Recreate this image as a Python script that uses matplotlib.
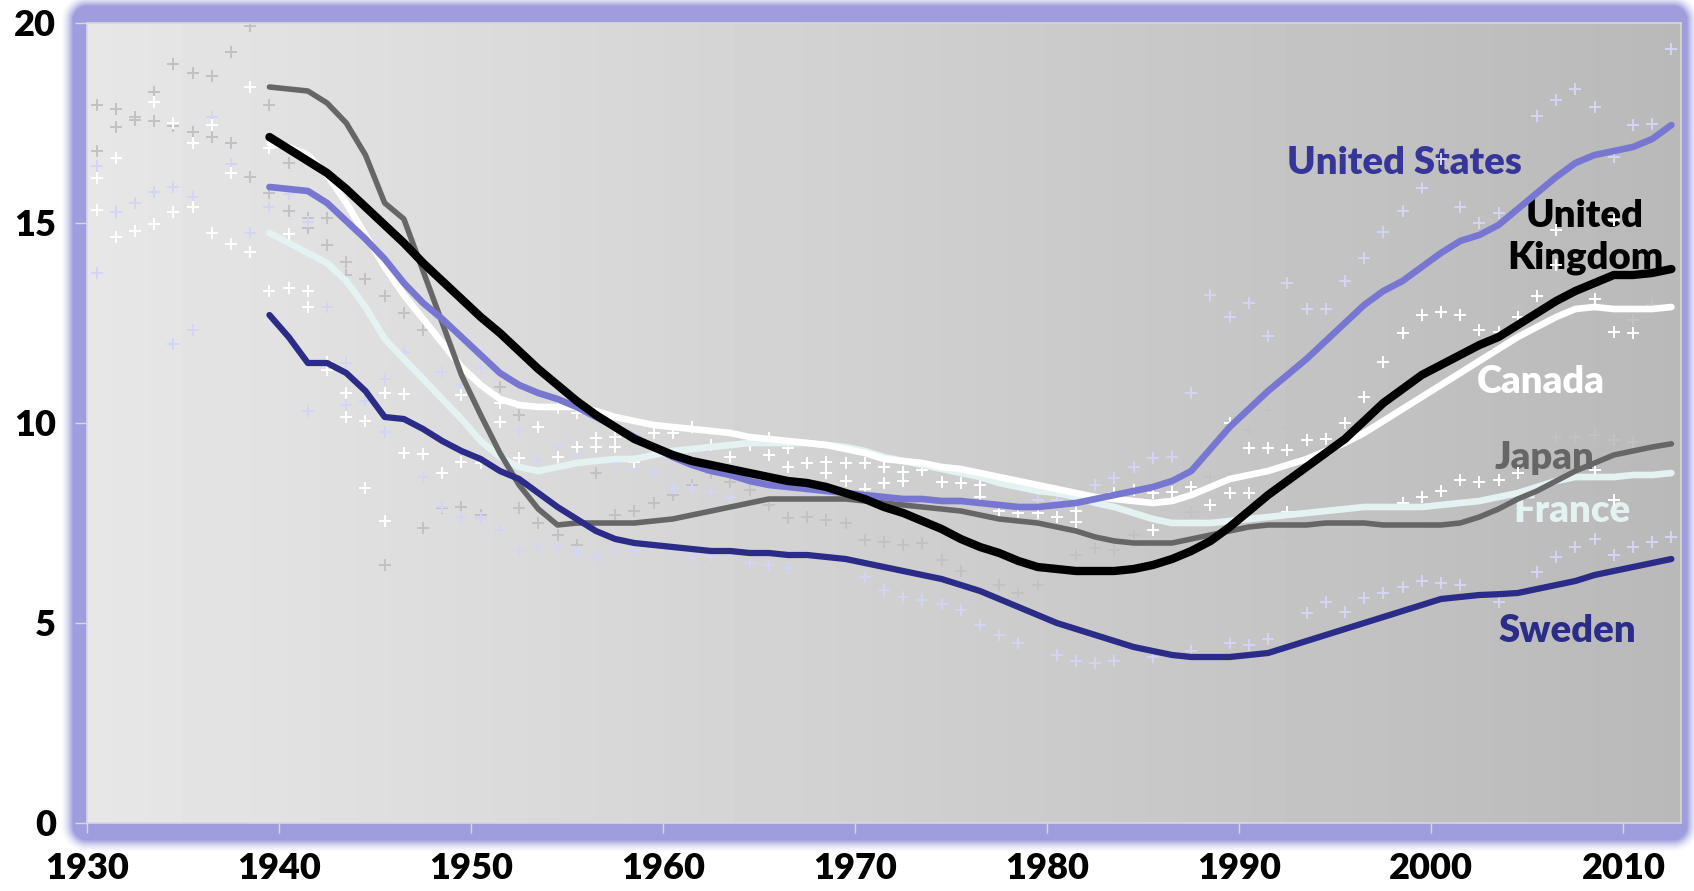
import numpy as np
import matplotlib.pyplot as plt

# smoothed series, one value per year 1939-2012
years = np.arange(1939, 2013)

japan = [18.4, 18.35, 18.3, 18.0, 17.5, 16.7, 15.5, 15.1, 13.8, 12.5,
         11.2, 10.2, 9.25, 8.45, 7.85, 7.45, 7.5, 7.5, 7.5, 7.5,
         7.55, 7.6, 7.7, 7.8, 7.9, 8.0, 8.1, 8.1, 8.1, 8.1,
         8.1, 8.05, 8.0, 7.95, 7.9, 7.85, 7.8, 7.7, 7.6, 7.55,
         7.5, 7.4, 7.3, 7.15, 7.05, 7.0, 7.0, 7.0, 7.1, 7.2,
         7.3, 7.4, 7.45, 7.45, 7.45, 7.5, 7.5, 7.5, 7.45, 7.45,
         7.45, 7.45, 7.5, 7.65, 7.85, 8.1, 8.3, 8.55, 8.8, 9.0,
         9.2, 9.3, 9.4, 9.48]

uk = [17.15, 16.85, 16.55, 16.25, 15.85, 15.4, 14.95, 14.5, 14.0, 13.55,
      13.1, 12.65, 12.25, 11.8, 11.35, 10.95, 10.55, 10.2, 9.9, 9.6,
      9.4, 9.2, 9.05, 8.95, 8.85, 8.75, 8.65, 8.55, 8.5, 8.4,
      8.25, 8.1, 7.9, 7.75, 7.55, 7.35, 7.1, 6.9, 6.75, 6.55,
      6.4, 6.35, 6.3, 6.3, 6.3, 6.35, 6.45, 6.6, 6.8, 7.05,
      7.4, 7.8, 8.2, 8.55, 8.9, 9.25, 9.6, 10.05, 10.5, 10.85,
      11.2, 11.45, 11.7, 11.95, 12.15, 12.45, 12.75, 13.05, 13.3, 13.5,
      13.7, 13.7, 13.75, 13.85]

us = [15.9, 15.85, 15.8, 15.5, 15.05, 14.6, 14.1, 13.5, 13.0, 12.6,
      12.15, 11.7, 11.25, 10.95, 10.75, 10.6, 10.4, 10.15, 9.9, 9.65,
      9.4, 9.15, 8.95, 8.8, 8.7, 8.55, 8.45, 8.4, 8.35, 8.3,
      8.25, 8.2, 8.15, 8.1, 8.1, 8.05, 8.05, 8.0, 7.95, 7.9,
      7.9, 7.95, 8.0, 8.1, 8.2, 8.3, 8.4, 8.55, 8.8, 9.35,
      9.9, 10.35, 10.8, 11.2, 11.6, 12.05, 12.5, 12.95, 13.3, 13.55,
      13.9, 14.25, 14.55, 14.7, 14.95, 15.35, 15.75, 16.15, 16.5, 16.7,
      16.8, 16.9, 17.1, 17.45]

canada = [17.0, 16.9, 16.7, 16.2, 15.5, 14.7, 13.9, 13.2, 12.6, 12.0,
          11.4, 10.95, 10.6, 10.45, 10.4, 10.4, 10.4, 10.3, 10.15, 10.05,
          9.95, 9.9, 9.85, 9.8, 9.75, 9.65, 9.6, 9.55, 9.5, 9.45,
          9.35, 9.25, 9.1, 9.05, 9.0, 8.9, 8.85, 8.75, 8.65, 8.55,
          8.45, 8.35, 8.25, 8.15, 8.1, 8.05, 8.0, 8.05, 8.2, 8.4,
          8.6, 8.7, 8.8, 8.95, 9.1, 9.3, 9.5, 9.75, 10.05, 10.35,
          10.65, 10.95, 11.25, 11.55, 11.85, 12.15, 12.4, 12.65, 12.85, 12.9,
          12.85, 12.85, 12.85, 12.9]

france = [14.75, 14.5, 14.25, 14.0, 13.55, 12.9, 12.1, 11.6, 11.1, 10.6,
          10.1, 9.55, 9.15, 8.9, 8.8, 8.9, 9.0, 9.05, 9.1, 9.1,
          9.2, 9.3, 9.35, 9.4, 9.45, 9.5, 9.5, 9.5, 9.5, 9.45,
          9.4, 9.3, 9.15, 9.05, 8.95, 8.85, 8.75, 8.65, 8.5, 8.4,
          8.3, 8.25, 8.15, 8.0, 7.9, 7.75, 7.6, 7.5, 7.5, 7.5,
          7.55, 7.6, 7.65, 7.7, 7.75, 7.8, 7.85, 7.9, 7.9, 7.9,
          7.9, 7.95, 8.0, 8.05, 8.15, 8.25, 8.4, 8.55, 8.65, 8.65,
          8.65, 8.7, 8.7, 8.75]

sweden = [12.7, 12.15, 11.5, 11.5, 11.25, 10.8, 10.15, 10.1, 9.85, 9.55,
          9.3, 9.1, 8.8, 8.6, 8.25, 7.9, 7.6, 7.3, 7.1, 7.0,
          6.95, 6.9, 6.85, 6.8, 6.8, 6.75, 6.75, 6.7, 6.7, 6.65,
          6.6, 6.5, 6.4, 6.3, 6.2, 6.1, 5.95, 5.8, 5.6, 5.4,
          5.2, 5.0, 4.85, 4.7, 4.55, 4.4, 4.3, 4.2, 4.15, 4.15,
          4.15, 4.2, 4.25, 4.4, 4.55, 4.7, 4.85, 5.0, 5.15, 5.3,
          5.45, 5.6, 5.65, 5.7, 5.72, 5.75, 5.85, 5.95, 6.05, 6.2,
          6.3, 6.4, 6.5, 6.6]

# yearly raw observations, grouped by marker tint
grey_years = [1930, 1930, 1931, 1931, 1932, 1932, 1933, 1933, 1934, 1934,
              1935, 1935, 1936, 1936, 1937, 1937, 1938, 1938, 1939, 1939,
              1940, 1940, 1941, 1941, 1942, 1942, 1943, 1943, 1944, 1945,
              1945, 1946, 1947, 1947, 1948, 1949, 1950, 1951, 1952, 1952,
              1953, 1954, 1955, 1956, 1957, 1958, 1959, 1960, 1961, 1962,
              1963, 1964, 1965, 1966, 1967, 1968, 1969, 1970, 1971, 1972,
              1973, 1974, 1975, 1977, 1978, 1979, 1981, 1982, 1983, 1984,
              1987, 1988, 1989, 1990, 1991, 1992, 1992, 1993, 1993, 1994,
              1994, 1995, 1995, 1996, 1996, 1997, 1997, 1998, 1998, 1999,
              1999, 2000, 2004, 2006, 2007, 2008, 2009, 2010, 2010, 2011]
grey_vals = [17.95, 16.8, 17.85, 17.39, 17.66, 17.58, 18.28, 17.56, 18.97, 17.42,
             18.74, 17.28, 18.68, 17.14, 19.27, 16.99, 19.92, 16.16, 17.95, 15.74,
             16.5, 15.3, 15.12, 14.87, 15.12, 14.45, 14.03, 13.7, 13.6, 13.18,
             6.45, 12.76, 12.33, 7.37, 7.87, 7.89, 7.7, 10.9, 10.2, 7.87,
             7.49, 7.2, 6.95, 8.74, 7.7, 7.79, 8.0, 8.2, 8.45, 8.74,
             8.53, 8.33, 7.95, 7.62, 7.66, 7.58, 7.49, 7.08, 7.03, 6.95,
             6.99, 6.57, 6.3, 5.95, 5.74, 5.95, 6.7, 6.87, 6.82, 7.2,
             7.78, 8.66, 8.66, 9.83, 10.33, 9.87, 7.15, 10.37, 7.19, 10.62,
             7.11, 10.74, 7.32, 11.9, 7.4, 12.07, 7.5, 12.53, 7.66, 12.53,
             7.7, 7.8, 12.9, 9.66, 9.66, 9.7, 9.58, 12.57, 9.53, 12.95]

white_years = [1930, 1930, 1931, 1931, 1932, 1933, 1933, 1934, 1934, 1935,
               1935, 1936, 1936, 1937, 1937, 1938, 1938, 1939, 1939, 1940,
               1940, 1941, 1941, 1942, 1942, 1943, 1943, 1944, 1944, 1945,
               1945, 1946, 1946, 1947, 1948, 1949, 1949, 1950, 1951, 1951,
               1952, 1953, 1954, 1954, 1955, 1955, 1956, 1956, 1957, 1957,
               1958, 1959, 1960, 1961, 1962, 1963, 1964, 1965, 1965, 1966,
               1966, 1967, 1968, 1968, 1969, 1969, 1970, 1970, 1971, 1971,
               1972, 1972, 1973, 1974, 1975, 1976, 1976, 1977, 1978, 1979,
               1980, 1981, 1981, 1983, 1984, 1985, 1985, 1986, 1987, 1988,
               1989, 1989, 1990, 1990, 1991, 1992, 1992, 1993, 1994, 1995,
               1996, 1997, 1998, 1998, 1999, 1999, 2000, 2000, 2001, 2001,
               2002, 2002, 2003, 2003, 2004, 2004, 2005, 2006, 2006, 2008,
               2008, 2009, 2009, 2009, 2010]
white_vals = [16.12, 15.33, 16.62, 14.64, 14.81, 18.03, 14.97, 17.49, 15.28, 16.99,
              15.41, 17.45, 14.76, 16.24, 14.48, 18.41, 14.28, 16.87, 13.31, 14.72,
              13.37, 13.31, 12.89, 11.53, 11.33, 10.74, 10.16, 10.05, 8.37, 10.74,
              7.56, 10.73, 9.24, 9.23, 8.76, 10.7, 9.03, 8.99, 10.49, 10.03,
              9.12, 9.9, 10.37, 9.16, 10.24, 9.41, 9.62, 9.39, 9.66, 9.39,
              9.03, 9.74, 9.74, 9.91, 9.45, 9.16, 9.45, 9.62, 9.2, 9.37,
              8.91, 9.01, 9.03, 8.76, 9.01, 8.56, 9.0, 8.34, 8.9, 8.49,
              8.78, 8.54, 8.82, 8.53, 8.49, 8.45, 8.16, 7.79, 7.74, 7.74,
              7.66, 7.79, 7.53, 8.24, 8.33, 8.24, 7.33, 8.28, 8.41, 7.95,
              10.01, 8.24, 9.37, 8.24, 9.37, 9.33, 7.78, 9.58, 9.6, 9.99,
              10.64, 11.53, 12.24, 8.0, 12.7, 8.16, 12.78, 8.31, 12.7, 8.57,
              12.32, 8.53, 12.28, 8.57, 12.66, 8.74, 13.17, 14.82, 13.95, 13.1,
              8.82, 15.08, 12.28, 8.07, 12.24]

lilac_years = [1930, 1930, 1931, 1932, 1933, 1934, 1934, 1935, 1935, 1936,
               1937, 1938, 1939, 1940, 1941, 1941, 1942, 1943, 1943, 1944,
               1944, 1945, 1945, 1946, 1947, 1948, 1948, 1949, 1949, 1950,
               1950, 1951, 1952, 1952, 1953, 1953, 1954, 1954, 1955, 1955,
               1956, 1957, 1957, 1958, 1958, 1959, 1960, 1961, 1961, 1962,
               1962, 1963, 1964, 1965, 1966, 1970, 1971, 1972, 1973, 1974,
               1975, 1976, 1977, 1978, 1979, 1980, 1980, 1981, 1982, 1982,
               1983, 1983, 1984, 1985, 1985, 1986, 1987, 1987, 1988, 1989,
               1989, 1990, 1990, 1991, 1991, 1992, 1993, 1993, 1994, 1994,
               1995, 1995, 1996, 1996, 1997, 1997, 1998, 1998, 1999, 1999,
               2000, 2000, 2001, 2001, 2002, 2003, 2003, 2005, 2005, 2006,
               2006, 2007, 2007, 2008, 2008, 2009, 2009, 2010, 2010, 2011,
               2011, 2012, 2012]
lilac_vals = [16.43, 13.74, 15.27, 15.49, 15.78, 15.89, 11.97, 15.64, 12.33, 17.64,
              16.48, 14.74, 15.41, 15.72, 15.03, 10.3, 12.9, 11.49, 10.45, 10.54,
              10.05, 11.09, 9.78, 11.78, 8.64, 11.28, 7.91, 10.95, 7.66, 11.37,
              7.62, 7.33, 9.83, 6.83, 9.08, 6.91, 9.41, 6.91, 9.24, 6.78,
              6.66, 9.0, 6.83, 8.87, 6.83, 8.74, 8.37, 8.34, 6.66, 8.27,
              6.66, 8.16, 6.51, 6.45, 6.37, 6.16, 5.83, 5.66, 5.58, 5.48,
              5.33, 4.95, 4.7, 4.5, 8.07, 8.07, 4.2, 4.05, 8.45, 4.0,
              8.62, 4.05, 8.91, 9.12, 4.15, 9.15, 10.76, 4.3, 13.2, 12.64,
              4.5, 13.01, 4.45, 12.17, 4.6, 13.49, 12.84, 5.24, 12.86, 5.53,
              13.55, 5.28, 14.12, 5.62, 14.78, 5.74, 15.31, 5.91, 15.88, 6.04,
              16.6, 6.0, 15.39, 5.95, 15.01, 15.24, 5.53, 17.68, 6.28, 18.08,
              6.66, 18.34, 6.91, 17.89, 7.11, 16.66, 6.7, 17.45, 6.91, 17.47,
              7.03, 19.34, 7.14]

W, H, DPI = 1694, 891, 100
fig = plt.figure(figsize=(W / DPI, H / DPI), dpi=DPI)
fig.patch.set_facecolor('white')

# soft lilac frame around the plotting area
px, py = np.meshgrid(np.arange(W) + 0.5, np.arange(H) + 0.5)
x0, x1, y0, y1, rad = 73, 1687, 6, 840, 14
cx, cy = (x0 + x1) / 2, (y0 + y1) / 2
hx, hy = (x1 - x0) / 2 - rad, (y1 - y0) / 2 - rad
qx = np.maximum(np.abs(px - cx) - hx, 0)
qy = np.maximum(np.abs(py - cy) - hy, 0)
dist = np.hypot(qx, qy) - rad
alpha = np.clip(1 - dist / 13, 0, 1) ** 1.8
frame = np.zeros((H, W, 4))
frame[..., 0] = 158 / 255
frame[..., 1] = 158 / 255
frame[..., 2] = 222 / 255
frame[..., 3] = alpha
fig.figimage(frame, 0, 0, zorder=-5)

ax = fig.add_axes([87 / W, 1 - 823 / H, (1681 - 87) / W, (823 - 23) / H])
ax.set_xlim(1930, 2013)
ax.set_ylim(0, 20)

# grey background fading from light on the left to darker on the right
grad = np.linspace(0.905, 0.725, 256).reshape(1, -1)
ax.imshow(grad, cmap='gray', vmin=0, vmax=1, aspect='auto',
          extent=[1930, 2013, 0, 20], zorder=0, interpolation='bicubic')

# country names sit under the markers and lines
lab = dict(fontsize=27.5, fontweight='heavy', family='Lato', ha='center', va='center', zorder=0.8)
ax.text(1998.6, 16.5, 'United States', color='#363699', **lab)
ax.text(2008.0, 14.65, 'United\nKingdom', color='#000000', linespacing=1.3, **lab)
ax.text(2005.7, 11.03, 'Canada', color='#ffffff', **lab)
ax.text(2005.9, 9.13, 'Japan', color='#666666', **lab)
ax.text(2007.3, 7.8, 'France', color='#e4f2f2', **lab)
ax.text(2007.1, 4.8, 'Sweden', color='#2b2b88', **lab)

mk = dict(marker='+', linestyle='none', markersize=9, markeredgewidth=1.4, zorder=1)
ax.plot(np.array(grey_years) + 0.5, grey_vals, color='#c2c2c2', **mk)
ax.plot(np.array(lilac_years) + 0.5, lilac_vals, color='#d4d4f4', **mk)
ax.plot(np.array(white_years) + 0.5, white_vals, color='#ffffff', **mk)

xs = years + 0.5
ln = dict(solid_capstyle='round', solid_joinstyle='round')
ax.plot(xs, france, color='#e4f2f2', lw=4.8, zorder=2, **ln)
ax.plot(xs, canada, color='#ffffff', lw=4.8, zorder=3, **ln)
ax.plot(xs, japan, color='#666666', lw=4.0, zorder=4, **ln)
ax.plot(xs, us, color='#7777d2', lw=4.8, zorder=5, **ln)
ax.plot(xs, sweden, color='#2b2b88', lw=4.5, zorder=6, **ln)
ax.plot(xs, uk, color='#000000', lw=6.0, zorder=7, **ln)

ax.set_xticks(range(1930, 2011, 10))
ax.set_yticks(range(0, 21, 5))
for s in ax.spines.values():
    s.set_color('#d8d8d8')
    s.set_linewidth(1.2)
ax.tick_params(axis='x', direction='out', length=7, width=1, color='#d8d8d8', pad=14)
ax.tick_params(axis='y', direction='out', length=8.5, width=1, color='#d8d8d8', pad=14)
for t in ax.get_xticklabels() + ax.get_yticklabels():
    t.set_fontfamily('Lato')
    t.set_fontweight('heavy')
    t.set_fontsize(26)

fig.savefig('out.png', dpi=DPI)
